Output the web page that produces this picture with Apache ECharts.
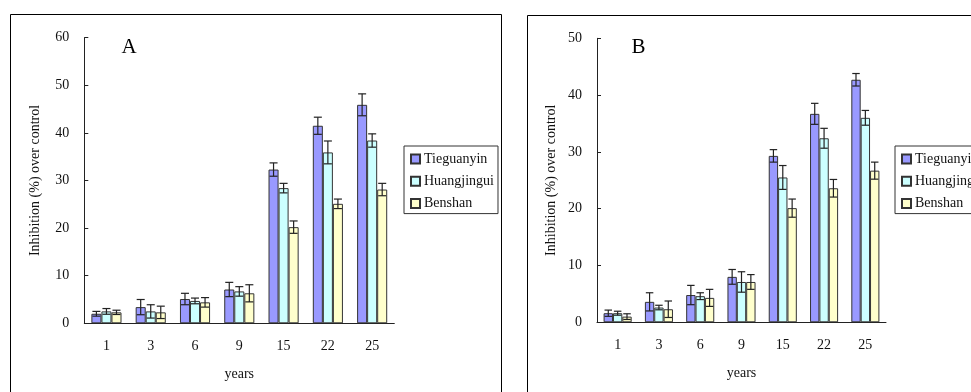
<!DOCTYPE html>
<html>
<head>
<meta charset="utf-8">
<script src="https://cdn.jsdelivr.net/npm/echarts@6/dist/echarts.min.js"></script>
<style>html,body{margin:0;padding:0;background:#fff;}#c{width:971px;height:392px;}</style>
</head>
<body>
<div id="c"></div>
<script>
const categories = ['1', '3', '6', '9', '15', '22', '25'];
const seriesNames = ['Tieguanyin', 'Huangjingui', 'Benshan'];

// Panel A
const aTieguanyin = [2.0, 3.4, 5.1, 7.1, 32.3, 41.5, 45.9];
const aTieguanyinErr = [0.5, 1.6, 1.2, 1.5, 1.4, 1.8, 2.3];
const aHuangjingui = [2.5, 2.5, 4.7, 6.7, 28.4, 35.9, 38.4];
const aHuangjinguiErr = [0.6, 1.4, 0.6, 1.0, 1.0, 2.4, 1.4];
const aBenshan = [2.3, 2.3, 4.4, 6.3, 20.2, 25.1, 28.1];
const aBenshanErr = [0.45, 1.3, 1.0, 1.8, 1.3, 1.0, 1.3];

// Panel B
const bTieguanyin = [1.6, 3.6, 4.8, 8.0, 29.3, 36.7, 42.7];
const bTieguanyinErr = [0.55, 1.6, 1.7, 1.3, 1.1, 1.85, 1.1];
const bHuangjingui = [1.6, 2.6, 4.6, 7.1, 25.5, 32.4, 36.0];
const bHuangjinguiErr = [0.35, 0.4, 0.6, 1.8, 2.1, 1.75, 1.3];
const bBenshan = [1.0, 2.3, 4.3, 7.1, 20.1, 23.6, 26.7];
const bBenshanErr = [0.5, 1.45, 1.5, 1.3, 1.6, 1.55, 1.5];

const yTicksA = {min: 0, max: 60, interval: 10};
const yTicksB = {min: 0, max: 50, interval: 10};

const colors = ['#9999FF', '#CCFFFF', '#FFFFCC'];
const FONT = '"Liberation Serif", "DejaVu Serif", serif';
const GAP = 0.32;

const chart = echarts.init(document.getElementById('c'), null, {renderer: 'canvas'});

function barSeries(name, data, color, gi) {
  return {
    type: 'bar', name: name, data: data, xAxisIndex: gi, yAxisIndex: gi,
    barGap: '0%', barCategoryGap: (GAP * 100) + '%',
    itemStyle: {color: color, borderColor: '#333', borderWidth: 1},
    emphasis: {disabled: true}, animation: false
  };
}

function errSeries(vals, errs, idx, gi) {
  return {
    type: 'custom', xAxisIndex: gi, yAxisIndex: gi, silent: true, animation: false, z: 5,
    data: vals.map((v, i) => [i, v - errs[i], v + errs[i]]),
    renderItem: function (params, api) {
      const band = api.size([1, 0])[0];
      const barW = band * (1 - GAP) / 3;
      const base = api.coord([api.value(0), 0]);
      const x = base[0] + (idx - 1) * barW;
      const lo = api.coord([api.value(0), api.value(1)])[1];
      const hi = api.coord([api.value(0), api.value(2)])[1];
      const cap = barW * 0.4;
      const st = {stroke: '#222', lineWidth: 1.2};
      return {type: 'group', children: [
        {type: 'line', shape: {x1: x, y1: lo, x2: x, y2: hi}, style: st},
        {type: 'line', shape: {x1: x - cap, y1: lo, x2: x + cap, y2: lo}, style: st},
        {type: 'line', shape: {x1: x - cap, y1: hi, x2: x + cap, y2: hi}, style: st}
      ]};
    }
  };
}

function xAxis(gi) {
  return {
    type: 'category', gridIndex: gi, data: categories, boundaryGap: true,
    name: 'years', nameLocation: 'middle', nameGap: 44,
    nameTextStyle: {fontFamily: FONT, fontSize: 14, color: '#111'},
    axisLine: {lineStyle: {color: '#222', width: 1}},
    axisTick: {inside: true, length: 4, lineStyle: {color: '#222'}},
    axisLabel: {fontFamily: FONT, fontSize: 14, color: '#111', margin: 16},
    splitLine: {show: false}
  };
}

function yAxis(gi, t, gap) {
  return {
    type: 'value', gridIndex: gi, min: t.min, max: t.max, interval: t.interval,
    name: 'Inhibition (%) over control', nameLocation: 'middle', nameGap: gap,
    nameTextStyle: {fontFamily: FONT, fontSize: 14, color: '#111'},
    axisLine: {show: true, lineStyle: {color: '#222', width: 1}},
    axisTick: {show: true, inside: true, length: 4, lineStyle: {color: '#222'}},
    axisLabel: {fontFamily: FONT, fontSize: 14, color: '#111', margin: 15},
    splitLine: {show: false}
  };
}

function legend(left) {
  return {
    show: true, data: seriesNames, orient: 'vertical', left: left, top: 146,
    icon: 'rect', itemWidth: 9, itemHeight: 9, itemGap: 8.3,
    padding: [6, 4, 3, 6], borderColor: '#333', borderWidth: 1,
    textStyle: {fontFamily: FONT, fontSize: 14, color: '#111', padding: [0, 0, 0, -1]},
    selectedMode: false
  };
}

const option = {
  animation: false,
  backgroundColor: '#fff',
  grid: [
    {left: 84.3, top: 37.7, right: 576.7, bottom: 68.7, containLabel: false, outerBoundsMode: 'none'},
    {left: 597, top: 38.3, right: 85, bottom: 69.7, containLabel: false, outerBoundsMode: 'none'}
  ],
  xAxis: [xAxis(0), xAxis(1)],
  yAxis: [yAxis(0, yTicksA, 42), yAxis(1, yTicksB, 39)],
  legend: [legend(404), legend(895)],
  graphic: [
    {type: 'rect', shape: {x: 10.5, y: 14.5, width: 491, height: 400}, style: {fill: 'none', stroke: '#000', lineWidth: 1}, z: 0, silent: true},
    {type: 'rect', shape: {x: 527.5, y: 15.5, width: 460, height: 400}, style: {fill: 'none', stroke: '#000', lineWidth: 1}, z: 0, silent: true},
    {type: 'text', left: 121.5, top: 37, style: {text: 'A', font: '21px ' + FONT, fill: '#000'}, silent: true},
    {type: 'text', left: 631.5, top: 36.5, style: {text: 'B', font: '21px ' + FONT, fill: '#000'}, silent: true}
  ],
  series: [
    barSeries(seriesNames[0], aTieguanyin, colors[0], 0),
    barSeries(seriesNames[1], aHuangjingui, colors[1], 0),
    barSeries(seriesNames[2], aBenshan, colors[2], 0),
    barSeries(seriesNames[0], bTieguanyin, colors[0], 1),
    barSeries(seriesNames[1], bHuangjingui, colors[1], 1),
    barSeries(seriesNames[2], bBenshan, colors[2], 1),
    errSeries(aTieguanyin, aTieguanyinErr, 0, 0),
    errSeries(aHuangjingui, aHuangjinguiErr, 1, 0),
    errSeries(aBenshan, aBenshanErr, 2, 0),
    errSeries(bTieguanyin, bTieguanyinErr, 0, 1),
    errSeries(bHuangjingui, bHuangjinguiErr, 1, 1),
    errSeries(bBenshan, bBenshanErr, 2, 1)
  ]
};
chart.setOption(option);
</script>
</body>
</html>
